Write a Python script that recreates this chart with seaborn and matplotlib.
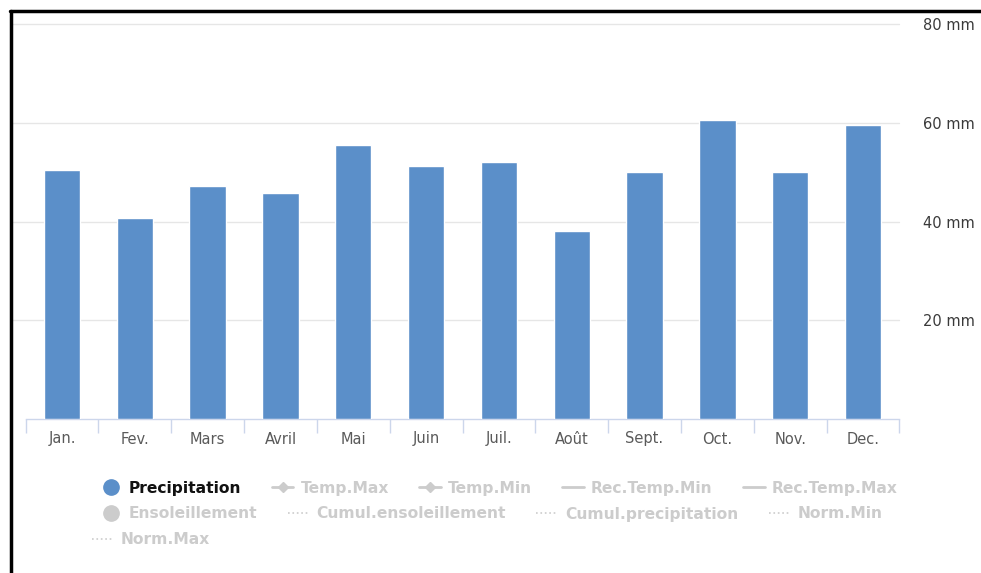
import matplotlib
matplotlib.use("Agg")
import matplotlib.pyplot as plt
from matplotlib.lines import Line2D
import seaborn as sns
import pandas as pd

months = ["Jan.", "Fev.", "Mars", "Avril", "Mai", "Juin", "Juil.", "Août",
          "Sept.", "Oct.", "Nov.", "Dec."]
precipitation = [50.4, 40.8, 47.1, 45.8, 55.5, 51.3, 52.1, 38.0, 50.1, 60.5, 50.1, 59.5]
y_ticks = [20, 40, 60, 80]
y_tick_labels = ["20 mm", "40 mm", "60 mm", "80 mm"]
legend_rows = [
    ["Precipitation", "Temp.Max", "Temp.Min", "Rec.Temp.Min", "Rec.Temp.Max"],
    ["Ensoleillement", "Cumul.ensoleillement", "Cumul.precipitation", "Norm.Min"],
    ["Norm.Max"],
]

sns.set_theme(style="white")
plt.rcParams["font.family"] = ["DejaVu Sans"]

df = pd.DataFrame({"mois": months, "mm": precipitation})

fig = plt.figure(figsize=(9.81, 5.73), dpi=100)
W, H = 981, 573
ax = fig.add_axes([25.6 / W, 1 - 419 / H, (899.4 - 25.6) / W, (419 - 24) / H])

BLUE = "#5b8fc9"
sns.barplot(data=df, x="mois", y="mm", color=BLUE, width=0.5, ax=ax,
            saturation=1, zorder=3)
ax.set_ylim(0, 80)
ax.set_xlim(-0.5, 11.5)
ax.set_xlabel("")
ax.set_ylabel("")

# grid
for v in y_ticks:
    ax.axhline(v, color="#e6e6e6", lw=1, zorder=1, xmin=-0.015, clip_on=False)

for s in ["left", "right", "top"]:
    ax.spines[s].set_visible(False)
ax.spines["bottom"].set_color("#ccd6eb")
ax.spines["bottom"].set_linewidth(1)

ax.yaxis.tick_right()
ax.set_yticks(y_ticks)
ax.set_yticklabels(y_tick_labels)
ax.tick_params(axis="y", length=0, pad=17, labelsize=10.5, labelcolor="#3a3a3a")

ax.set_xticks(range(12))
ax.set_xticklabels(months)
ax.set_xticks([i - 0.5 for i in range(13)], minor=True)
ax.tick_params(axis="x", which="major", length=0, pad=9, labelsize=10.5,
               labelcolor="#5a5a5a")
ax.tick_params(axis="x", which="minor", length=10, width=1, color="#ccd6eb",
               bottom=True, direction="out")

# legend
GRAY = "#cccccc"
def handle(name):
    if name == "Precipitation":
        return Line2D([], [], marker="o", ls="none", ms=11, color=BLUE)
    if name == "Ensoleillement":
        return Line2D([], [], marker="o", ls="none", ms=11, color=GRAY)
    if name in ("Temp.Max", "Temp.Min"):
        return Line2D([], [], marker="D", ls="-", lw=2, ms=5, color=GRAY)
    if name in ("Rec.Temp.Min", "Rec.Temp.Max"):
        return Line2D([], [], ls="-", lw=2, color=GRAY)
    return Line2D([], [], ls=":", lw=1.2, color=GRAY)

row_specs = [(100 / W, 1 - 488 / H), (100 / W, 1 - 514 / H), (92 / W, 1 - 540 / H)]
for names, (lx, ly) in zip(legend_rows, row_specs):
    leg = fig.legend([handle(n) for n in names], names, ncol=len(names),
                     loc="center left", bbox_to_anchor=(lx, ly), frameon=False,
                     handlelength=1.4, handletextpad=0.45, columnspacing=1.95,
                     borderaxespad=0, borderpad=0,
                     prop={"family": "DejaVu Sans", "weight": "bold", "size": 11.2})
    for t in leg.get_texts():
        t.set_color("#111111" if t.get_text() == "Precipitation" else GRAY)

# black frame (top and left)
fig.add_artist(Line2D([10 / W, 1], [1 - 11 / H, 1 - 11 / H], color="black", lw=2.5,
                      transform=fig.transFigure))
fig.add_artist(Line2D([10.5 / W, 10.5 / W], [0, 1 - 11 / H], color="black", lw=2.5,
                      transform=fig.transFigure))

fig.savefig("out.png", dpi=100)
